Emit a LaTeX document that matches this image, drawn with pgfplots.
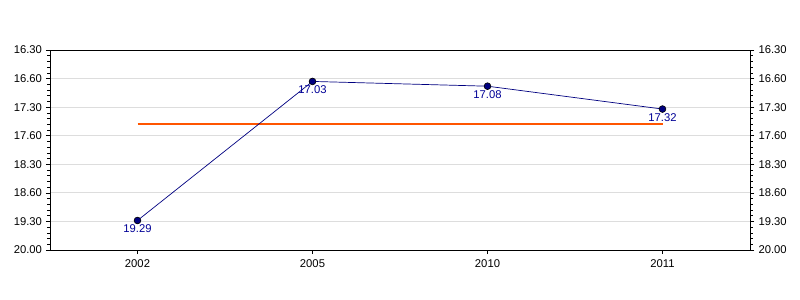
\documentclass[border=0pt]{standalone}
\usepackage{pgfplots}
\pgfplotsset{compat=1.18}
\usepackage{pgfplotstable}
\usepackage{fontspec}
\setmainfont{Liberation Sans}
\definecolor{navyline}{RGB}{0,0,128}
\definecolor{labelblue}{RGB}{0,0,150}
\definecolor{refline}{RGB}{255,85,0}
\definecolor{gridgrey}{RGB}{221,221,221}
% times in minutes (mm.ss converted), label = original text
\pgfplotstableread{
x y lab
0 19.48333 19.29
1 17.05000 17.03
2 17.13333 17.08
3 17.53333 17.32
}\datatable
\pgfplotstableread{
x y
0 17.80
3 17.80
}\reftable
\begin{document}
\begin{tikzpicture}[x=1bp,y=1bp]
\begin{axis}[
  at={(50bp,50bp)}, anchor=south west,
  width=700bp, height=200bp, scale only axis,
  xmin=-0.5, xmax=3.5,
  ymin=16.5, ymax=20,
  y dir=reverse,
  xtick={0,1,2,3},
  xticklabels={2002,2005,2010,2011},
  ytick={16.5,17,17.5,18,18.5,19,19.5,20},
  yticklabels={16.30,16.60,17.30,17.60,18.30,18.60,19.30,20.00},
  minor y tick num=4,
  ymajorgrids,
  major grid style={gridgrey, line width=0.8bp},
  axis line style={black, line width=0.9bp},
  tick style={black, line width=0.6bp},
  major tick length=4bp,
  minor tick length=2.5bp,
  tick align=outside,
  xtick pos=bottom,
  ytick pos=both,
  yticklabel pos=left,
  y tick label style={font=\fontsize{11.3}{13}\selectfont, xshift=-0.5bp},
  x tick label style={font=\fontsize{11.3}{13}\selectfont, yshift=-2bp},
  clip=false,
]
\addplot[refline, line width=2bp] table[x=x,y=y] {\reftable};
\addplot[navyline, line width=0.7bp, mark=*, mark size=3.4bp,
  mark options={fill=navyline, draw=black, line width=0.6bp},
  nodes near coords, point meta=explicit symbolic,
  every node near coord/.style={anchor=north, yshift=-3bp, text=labelblue, font=\fontsize{11.3}{13}\selectfont, inner sep=1bp}]
  table[x=x,y=y,meta=lab] {\datatable};
\end{axis}
\begin{axis}[
  at={(50bp,50bp)}, anchor=south west,
  width=700bp, height=200bp, scale only axis,
  xmin=-0.5, xmax=3.5,
  ymin=16.5, ymax=20,
  y dir=reverse,
  axis x line=none,
  axis y line*=right,
  ytick={16.5,17,17.5,18,18.5,19,19.5,20},
  yticklabels={16.30,16.60,17.30,17.60,18.30,18.60,19.30,20.00},
  minor y tick num=4,
  axis line style={black, line width=0.9bp},
  tick style={black, line width=0.6bp},
  major tick length=4bp,
  minor tick length=2.5bp,
  tick align=outside,
  y tick label style={font=\fontsize{11.3}{13}\selectfont, xshift=1bp},
]
\end{axis}
\path[use as bounding box] (0,0) rectangle (800bp,300bp);
\end{tikzpicture}
\end{document}
